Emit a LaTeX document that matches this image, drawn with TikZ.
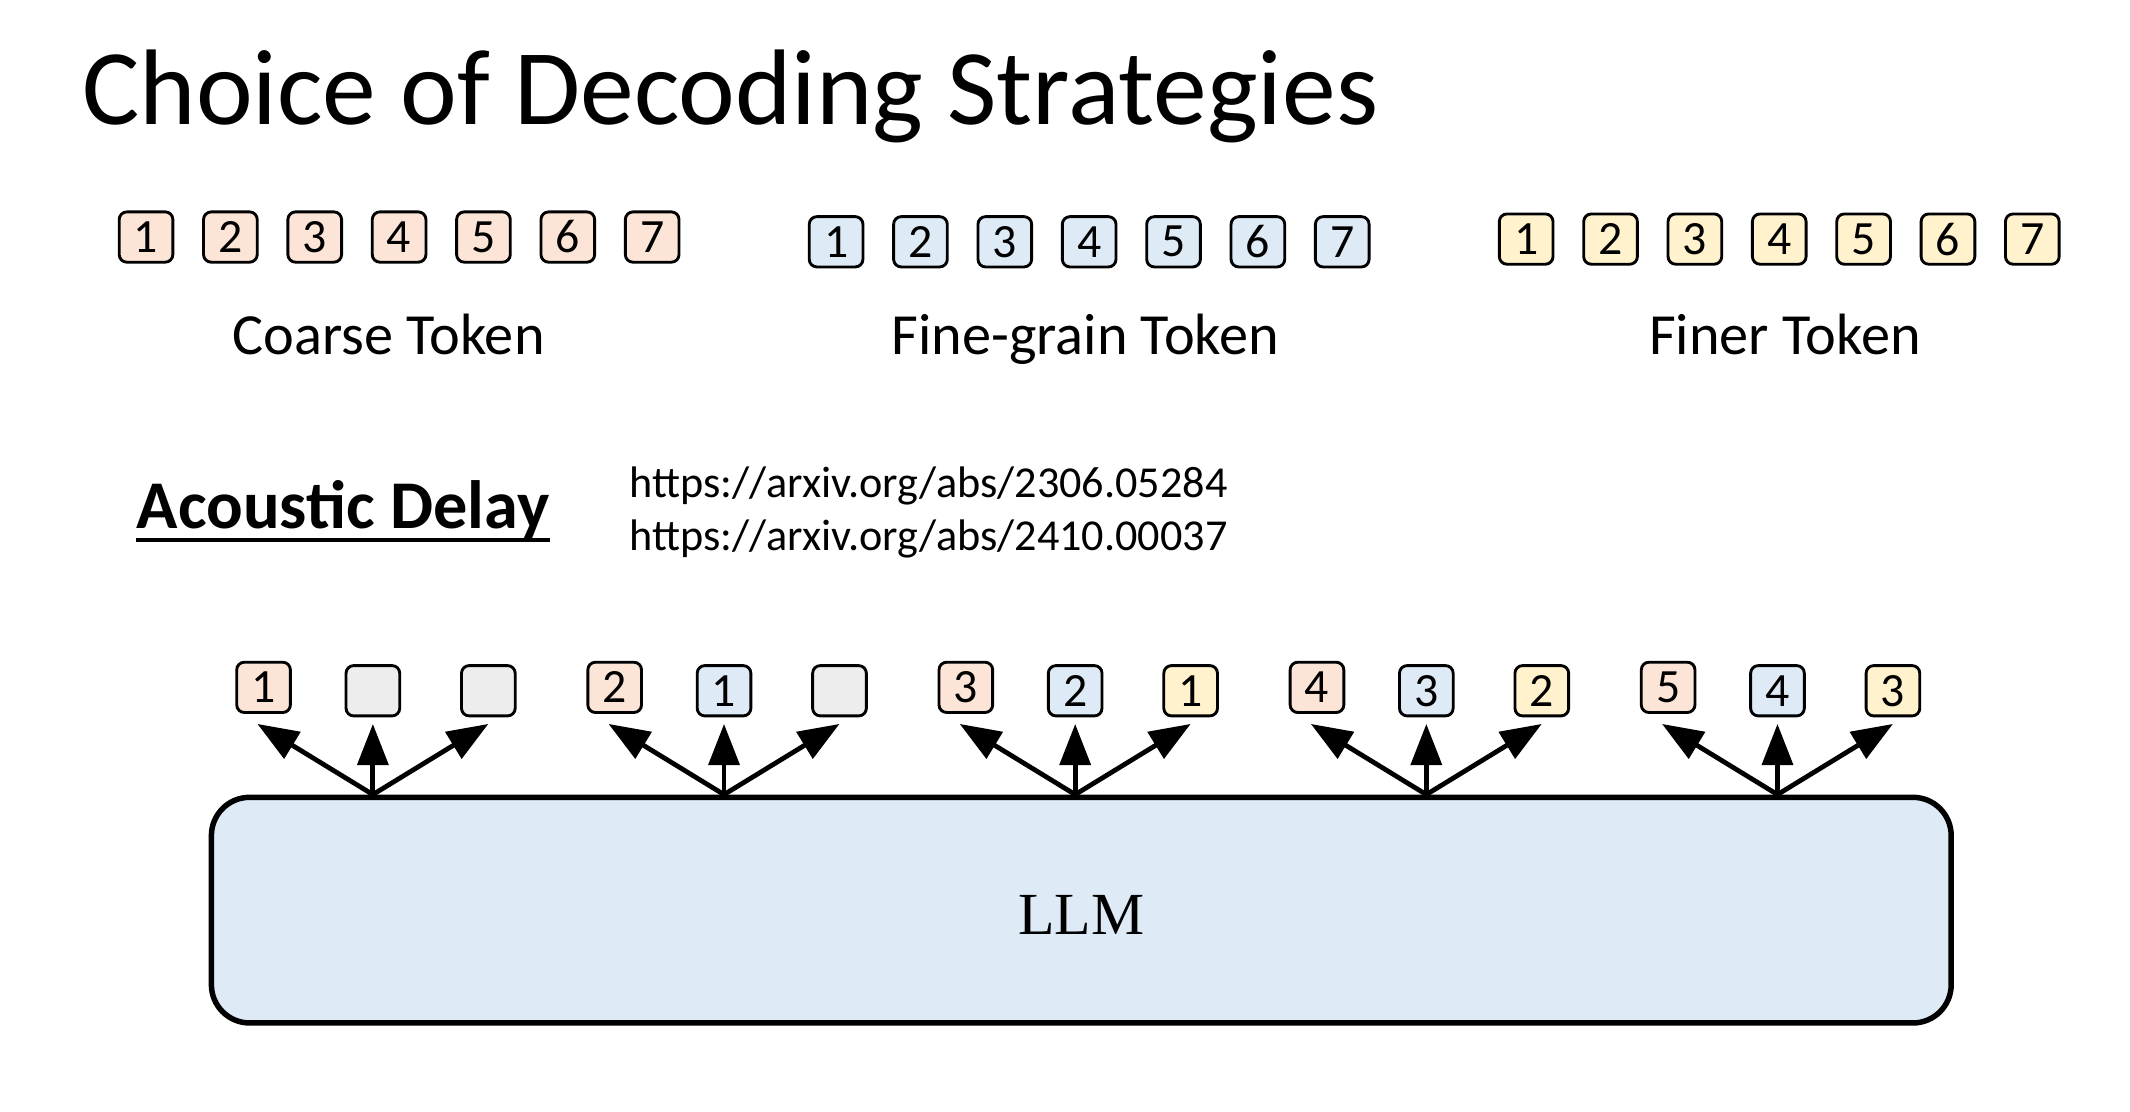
\documentclass[tikz,border=0pt]{standalone}
\usepackage{fontspec}
\setmainfont{Carlito}
\newfontfamily\llmfont{Liberation Serif}
\usetikzlibrary{arrows.meta, calc}
\definecolor{coarse}{HTML}{FCE4D6}
\definecolor{fine}{HTML}{DEEBF7}
\definecolor{finer}{HTML}{FFF2CC}
\definecolor{tokgray}{HTML}{EDEDED}
\definecolor{llmblue}{HTML}{DEEAF6}

\begin{document}
\begin{tikzpicture}[x=0.01cm, y=-0.01cm,
  tok/.style={draw, line width=0.6pt, rounded corners=1.6pt, minimum width=0.395cm,
    minimum height=0.37cm, inner sep=0pt, font=\fontsize{10}{11}\selectfont},
  lab/.style={anchor=base, font=\fontsize{12.2}{14}\selectfont},
  outarr/.style={-{Triangle[length=8.6pt,width=6.4pt]}, line width=1pt}]
\useasboundingbox (0,0) rectangle (1568,818.6);

\node[anchor=base west, inner sep=0pt, font=\fontsize{22.5}{26}\selectfont] (title) at (60,92) {Choice of Decoding Strategies};

% token rows
\foreach \i in {1,...,7}{
  \node[tok, fill=coarse] (c\i) at ({107.5+62.1*(\i-1)},174.5) {\i};
  \node[tok, fill=fine] (f\i) at ({615.5+62.1*(\i-1)},178) {\i};
  \node[tok, fill=finer] (r\i) at ({1123.5+62.1*(\i-1)},176) {\i};
}
\node[lab] (coarselab) at (286,261) {Coarse Token};
\node[lab] (finelab) at (799,261) {Fine-grain Token};
\node[lab] (finerlab) at (1314,261) {Finer Token};

\node[anchor=base west, inner sep=0pt, font=\fontsize{14.3}{17}\selectfont\bfseries] (delay) at (100,389) {Acoustic Delay};
\draw[line width=1pt] ([yshift=-2.4pt]delay.base west) -- ([yshift=-2.4pt]delay.base east);
\node[anchor=base west, inner sep=0pt, font=\fontsize{9.25}{11}\selectfont] (url1) at (463,366) {https://arxiv.org/abs/2306.05284};
\node[anchor=base west, inner sep=0pt, font=\fontsize{9.25}{11}\selectfont] (url2) at (463,405) {https://arxiv.org/abs/2410.00037};

\node[draw, line width=1.15pt, fill=llmblue, rounded corners=8pt, minimum width=12.8cm,
  minimum height=1.66cm, inner sep=0pt] (llm) at (796,670) {};
\node[font=\llmfont\fontsize{12.5}{15}\selectfont] (llmtext) at ([yshift=-1.1pt]llm.center) {LLM};

% delayed outputs
\foreach \g/\a/\b/\bc/\c/\cc in {1/1/{}/tokgray/{}/tokgray, 2/2/1/fine/{}/tokgray,
    3/3/2/fine/1/finer, 4/4/3/fine/2/finer, 5/5/4/fine/3/finer}{
  \node[tok, fill=coarse] (d\g1) at ({194+258.5*(\g-1)},506) {\a};
  \node[tok, fill=\bc] (d\g2) at ({274.5+258.5*(\g-1)},508.5) {\b};
  \node[tok, fill=\cc] (d\g3) at ({359.5+258.5*(\g-1)},508.5) {\c};
  \coordinate (base\g) at (llm.north -| d\g2);
  \coordinate (tipl\g) at ([shift={(-85,-52)}]base\g);
  \coordinate (tipm\g) at ([shift={(0,-52)}]base\g);
  \coordinate (tipr\g) at ([shift={(85,-52)}]base\g);
  \draw[outarr] (base\g) -- (tipl\g);
  \draw[outarr] (base\g) -- (tipm\g);
  \draw[outarr] (base\g) -- (tipr\g);
}
\end{tikzpicture}
\end{document}
